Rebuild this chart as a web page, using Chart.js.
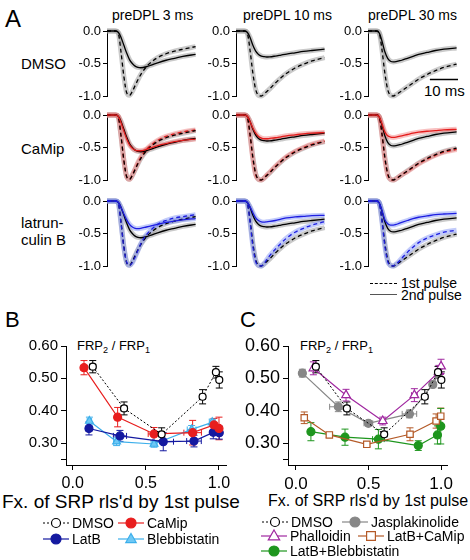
<!DOCTYPE html>
<html>
<head>
<meta charset="utf-8">
<script src="https://cdn.jsdelivr.net/npm/chart.js@4.4.1/dist/chart.umd.min.js"></script>
<style>
body { margin: 0; background: #fff; }
#fig { position: relative; width: 470px; height: 560px; overflow: hidden; font-family: "Liberation Sans", Arial, sans-serif; color: #000; }
#fig canvas { position: absolute; }
.t { position: absolute; white-space: nowrap; line-height: 1; }
.t sub { font-size: 70%; vertical-align: -3px; line-height: 0; }
.smp { position: absolute; width: 27px; height: 0; }
</style>
</head>
<body>
<div id="fig">
  <div class="t" style="left:5px;top:7px;font-size:24px">A</div>
  <div class="t" style="left:112px;top:8px;font-size:14px">preDPL 3 ms</div>
  <div class="t" style="left:243px;top:8px;font-size:14px">preDPL 10 ms</div>
  <div class="t" style="left:368px;top:8px;font-size:14px">preDPL 30 ms</div>
  <div class="t" style="left:21px;top:56px;font-size:15px">DMSO</div>
  <div class="t" style="left:21px;top:141px;font-size:15px">CaMip</div>
  <div class="t" style="left:21px;top:215px;font-size:15px">latrun-</div>
  <div class="t" style="left:21px;top:232px;font-size:15px">culin B</div>
  <div class="t" style="left:424px;top:83px;font-size:15px">10 ms</div>
  <div class="smp" style="left:370px;top:283px;border-top:1.3px dashed #000"></div>
  <div class="t" style="left:401px;top:276px;font-size:14px">1st pulse</div>
  <div class="smp" style="left:370px;top:294px;border-top:1.5px solid #555"></div>
  <div class="t" style="left:401px;top:288px;font-size:14px">2nd pulse</div>

  <div class="t" style="left:5px;top:309px;font-size:22px">B</div>
  <div class="t" style="left:240px;top:309px;font-size:22px">C</div>
  <div class="t" style="left:77px;top:339px;font-size:13px">FRP<sub>2</sub> / FRP<sub>1</sub></div>
  <div class="t" style="left:300px;top:339px;font-size:13px">FRP<sub>2</sub> / FRP<sub>1</sub></div>
  <div class="t" style="left:2px;top:492px;font-size:19px">Fx. of SRP rls'd by 1st pulse</div>
  <div class="t" style="left:268px;top:493px;font-size:16px">Fx. of SRP rls'd by 1st pulse</div>
</div>
<script>
// ---- panel A: normalized currents, time in ms ----
const T = [0, 3, 4, 5, 6, 7, 8, 9, 10, 11, 12, 14, 16, 18, 21, 24, 27, 31.5];

// one inner array per column: preDPL 3, 10, 30 ms
const dmsoFirst = [
  [0, 0, -0.03, -0.33, -0.7, -0.95, -0.99, -0.93, -0.84, -0.75, -0.67, -0.55, -0.47, -0.41, -0.35, -0.31, -0.28, -0.24],
  [0, 0, -0.03, -0.3, -0.65, -0.9, -0.99, -1.0, -0.97, -0.93, -0.89, -0.8, -0.72, -0.65, -0.57, -0.51, -0.46, -0.41],
  [0, 0, -0.03, -0.3, -0.65, -0.9, -0.99, -1.0, -0.98, -0.95, -0.92, -0.86, -0.8, -0.74, -0.67, -0.61, -0.56, -0.51]
];
const dmsoSecond = [
  [0, 0, -0.02, -0.1, -0.22, -0.34, -0.44, -0.5, -0.54, -0.56, -0.565, -0.55, -0.52, -0.49, -0.45, -0.42, -0.39, -0.36],
  [0, 0, -0.02, -0.1, -0.22, -0.31, -0.36, -0.385, -0.395, -0.4, -0.398, -0.385, -0.37, -0.355, -0.335, -0.315, -0.3, -0.28],
  [0, 0, -0.03, -0.16, -0.32, -0.42, -0.465, -0.475, -0.47, -0.46, -0.45, -0.42, -0.39, -0.36, -0.33, -0.3, -0.28, -0.26]
];
const camipFirst = [
  [0, 0, -0.03, -0.32, -0.7, -0.95, -0.99, -0.92, -0.83, -0.73, -0.65, -0.53, -0.45, -0.39, -0.33, -0.29, -0.26, -0.23],
  [0, 0, -0.03, -0.32, -0.68, -0.92, -0.99, -1.0, -0.97, -0.92, -0.88, -0.79, -0.71, -0.64, -0.56, -0.5, -0.45, -0.4],
  [0, 0, -0.03, -0.32, -0.68, -0.92, -0.99, -1.0, -0.98, -0.95, -0.92, -0.87, -0.81, -0.75, -0.68, -0.62, -0.57, -0.53]
];
const camipSecond = [
  [0, 0, -0.02, -0.12, -0.25, -0.37, -0.46, -0.51, -0.54, -0.55, -0.55, -0.53, -0.5, -0.47, -0.44, -0.41, -0.39, -0.37],
  [0, 0, -0.02, -0.1, -0.2, -0.28, -0.33, -0.355, -0.365, -0.365, -0.36, -0.35, -0.335, -0.32, -0.305, -0.29, -0.28, -0.27],
  [0, 0, -0.03, -0.14, -0.26, -0.32, -0.34, -0.345, -0.34, -0.33, -0.32, -0.3, -0.28, -0.265, -0.25, -0.24, -0.23, -0.22]
];
const latbFirst = [
  [0, 0, -0.03, -0.35, -0.72, -0.94, -0.99, -0.95, -0.86, -0.76, -0.66, -0.52, -0.43, -0.36, -0.3, -0.26, -0.24, -0.21],
  [0, 0, -0.03, -0.33, -0.7, -0.93, -0.99, -1.0, -0.96, -0.9, -0.84, -0.74, -0.65, -0.57, -0.48, -0.42, -0.37, -0.32],
  [0, 0, -0.03, -0.33, -0.7, -0.93, -0.99, -1.0, -0.97, -0.93, -0.88, -0.79, -0.71, -0.64, -0.57, -0.52, -0.48, -0.45]
];
const latbSecond = [
  [0, 0, -0.02, -0.1, -0.2, -0.29, -0.36, -0.4, -0.42, -0.425, -0.42, -0.4, -0.38, -0.36, -0.33, -0.31, -0.29, -0.27],
  [0, 0, -0.02, -0.09, -0.18, -0.26, -0.3, -0.32, -0.325, -0.32, -0.315, -0.3, -0.28, -0.26, -0.245, -0.235, -0.225, -0.22],
  [0, 0, -0.03, -0.15, -0.29, -0.35, -0.37, -0.37, -0.36, -0.345, -0.33, -0.3, -0.27, -0.25, -0.23, -0.21, -0.2, -0.19]
];
const aTicks = [0, -0.5, -1.0];

// ---- panel B: FRP2/FRP1 vs fraction of SRP released ----
const bDmsoX = [0.137, 0.351, 0.608, 0.888, 0.979, 1.002];
const bDmsoY = [0.536, 0.407, 0.327, 0.443, 0.519, 0.495];
const bDmsoYErr = [0.019, 0.02, 0.02, 0.022, 0.018, 0.025];
const bDmsoXErr = [0.02, 0.02, 0.02, 0.02, 0.01, 0.01];

const camipX = [0.077, 0.307, 0.556, 0.82, 0.966, 1.0];
const camipY = [0.533, 0.38, 0.328, 0.332, 0.356, 0.345];
const camipYErr = [0.022, 0.03, 0.02, 0.038, 0.02, 0.035];
const camipXErr = [0.02, 0.02, 0.04, 0.06, 0.02, 0.01];

const latbX = [0.111, 0.323, 0.619, 0.829, 0.961, 1.002];
const latbY = [0.345, 0.322, 0.304, 0.306, 0.333, 0.332];
const latbYErr = [0.02, 0.017, 0.028, 0.018, 0.02, 0.02];
const latbXErr = [0.02, 0.045, 0.07, 0.05, 0.015, 0.01];

const blebX = [0.114, 0.3, 0.556, 0.813, 0.954];
const blebY = [0.368, 0.304, 0.297, 0.342, 0.364];
const blebYErr = [0.012, 0.012, 0.01, 0.012, 0.01];
const blebXErr = [0.015, 0.02, 0.02, 0.03, 0.02];

// ---- panel C ----
const jaspX = [0.044, 0.292, 0.499, 0.782, 0.943, 0.981];
const jaspY = [0.516, 0.412, 0.361, 0.39, 0.481, 0.512];
const jaspYErr = [0.012, 0.015, 0.008, 0.012, 0.01, 0.01];
const jaspXErr = [0.02, 0.06, 0.03, 0.05, 0.02, 0.01];

const phallX = [0.12, 0.345, 0.598, 0.816, 0.985, 1.0];
const phallY = [0.531, 0.448, 0.368, 0.448, 0.52, 0.537];
const phallYErr = [0.02, 0.018, 0.012, 0.02, 0.02, 0.022];
const phallXErr = [0.01, 0.01, 0.02, 0.02, 0.01, 0.01];

const latbCamipX = [0.057, 0.23, 0.488, 0.786, 0.966, 0.998];
const latbCamipY = [0.378, 0.325, 0.296, 0.327, 0.368, 0.383];
const latbCamipYErr = [0.018, 0.008, 0.007, 0.02, 0.022, 0.025];
const latbCamipXErr = [0.01, 0.02, 0.02, 0.02, 0.02, 0.01];

const latbBlebX = [0.103, 0.338, 0.568, 0.843, 0.975, 0.998];
const latbBlebY = [0.335, 0.318, 0.312, 0.292, 0.325, 0.352];
const latbBlebYErr = [0.028, 0.025, 0.03, 0.015, 0.028, 0.055];
const latbBlebXErr = [0.01, 0.01, 0.04, 0.01, 0.01, 0.01];

const frpYTicks = [0.25, 0.3, 0.4, 0.5, 0.6];
const frpXTicks = [0, 0.5, 1.0];

Chart.defaults.font.family = '"Liberation Sans", Arial, sans-serif';
Chart.defaults.color = '#000';

function makeCanvas(left, top, w, h) {
  const c = document.createElement('canvas');
  c.width = w; c.height = h;
  c.style.left = left + 'px'; c.style.top = top + 'px';
  c.style.width = w + 'px'; c.style.height = h + 'px';
  document.getElementById('fig').appendChild(c);
  return c;
}

// small marker drawer shared by the key
function marker(ctx, style, x, y, r) {
  ctx.beginPath();
  if (style === 'triangle') {
    ctx.moveTo(x, y - r);
    ctx.lineTo(x + r * 0.95, y + r * 0.65);
    ctx.lineTo(x - r * 0.95, y + r * 0.65);
    ctx.closePath();
  } else if (style === 'rect') {
    ctx.rect(x - r * 0.8, y - r * 0.8, r * 1.6, r * 1.6);
  } else {
    ctx.arc(x, y, r, 0, Math.PI * 2);
  }
  ctx.fill();
  ctx.stroke();
}

const errorBars = {
  id: 'errorBars',
  beforeDatasetsDraw(chart) {
    const ctx = chart.ctx, xs = chart.scales.x, ys = chart.scales.y;
    chart.data.datasets.forEach(ds => {
      if (!ds.yErr) return;
      ctx.save();
      ctx.strokeStyle = ds.borderColor;
      ctx.lineWidth = 1;
      ds.data.forEach((p, j) => {
        const px = xs.getPixelForValue(p.x), py = ys.getPixelForValue(p.y);
        const top = ys.getPixelForValue(p.y + ds.yErr[j]), bot = ys.getPixelForValue(p.y - ds.yErr[j]);
        const lft = xs.getPixelForValue(p.x - ds.xErr[j]), rgt = xs.getPixelForValue(p.x + ds.xErr[j]);
        ctx.beginPath();
        ctx.moveTo(px, top); ctx.lineTo(px, bot);
        ctx.moveTo(px - 3.5, top); ctx.lineTo(px + 3.5, top);
        ctx.moveTo(px - 3.5, bot); ctx.lineTo(px + 3.5, bot);
        ctx.moveTo(lft, py); ctx.lineTo(rgt, py);
        ctx.moveTo(lft, py - 3); ctx.lineTo(lft, py + 3);
        ctx.moveTo(rgt, py - 3); ctx.lineTo(rgt, py + 3);
        ctx.stroke();
      });
      ctx.restore();
    });
  }
};

const keyPlugin = {
  id: 'key',
  afterDraw(chart, args, opts) {
    if (!opts.items) return;
    const ctx = chart.ctx;
    opts.items.forEach(it => {
      const ds = chart.data.datasets[it.ds];
      ctx.save();
      ctx.strokeStyle = ds.borderColor;
      ctx.lineWidth = ds.borderWidth;
      ctx.setLineDash(ds.borderDash || []);
      ctx.beginPath(); ctx.moveTo(it.x, it.y); ctx.lineTo(it.x + 26, it.y); ctx.stroke();
      ctx.setLineDash([]);
      ctx.fillStyle = ds.pointBackgroundColor;
      ctx.strokeStyle = ds.pointBorderColor;
      ctx.lineWidth = ds.pointBorderWidth;
      marker(ctx, ds.pointStyle, it.x + 13, it.y, ds.pointRadius + 1);
      ctx.fillStyle = '#000';
      ctx.font = '14px "Liberation Sans", Arial, sans-serif';
      ctx.textBaseline = 'middle';
      ctx.fillText(ds.label, it.x + 29, it.y + 1);
      ctx.restore();
    });
  }
};

const scaleBar = {
  id: 'scaleBar',
  afterDraw(chart, args, opts) {
    if (!opts.show) return;
    const ctx = chart.ctx, xs = chart.scales.x, ys = chart.scales.y;
    const y = Math.round(ys.getPixelForValue(opts.at)) + 0.5;
    ctx.save();
    ctx.strokeStyle = '#000';
    ctx.lineWidth = 1.5;
    ctx.beginPath();
    ctx.moveTo(xs.getPixelForValue(opts.from), y);
    ctx.lineTo(xs.getPixelForValue(opts.to), y);
    ctx.stroke();
    ctx.restore();
  }
};

// ---- panel A grid ----
const colAxis = [107, 236, 368];
const rowZero = [31, 115, 201];
const rowSets = [
  null,
  { first: camipFirst, second: camipSecond, line: 'rgb(228,28,28)', band: 'rgba(240,120,120,0.45)' },
  { first: latbFirst, second: latbSecond, line: 'rgb(30,30,225)', band: 'rgba(120,140,245,0.45)' }
];

function trace(vals, color, width, dash, order) {
  return {
    data: vals.map((v, i) => ({ x: T[i], y: v })),
    borderColor: color, borderWidth: width, borderDash: dash,
    pointRadius: 0, cubicInterpolationMode: 'monotone', order: order, clip: false
  };
}

for (let r = 0; r < 3; r++) {
  for (let c = 0; c < 3; c++) {
    const canvas = makeCanvas(colAxis[c] - 36, rowZero[r] - 10, 140, 85);
    const grey = 'rgba(150,150,150,0.5)';
    const datasets = [
      trace(dmsoFirst[c], grey, 5, [], 20),
      trace(dmsoSecond[c], grey, 5, [], 20),
      trace(dmsoFirst[c], '#000', 1.3, [4, 3], 1),
      trace(dmsoSecond[c], '#000', 1.3, [], 1)
    ];
    const s = rowSets[r];
    if (s) {
      datasets.push(trace(s.first[c], s.band, 5, [], 15));
      datasets.push(trace(s.second[c], s.band, 5, [], 15));
      datasets.push(trace(s.first[c], s.line, 1.3, [4, 3], r === 1 ? 3 : 0));
      datasets.push(trace(s.second[c], s.line, 1.3, [], 0));
    }
    new Chart(canvas, {
      type: 'line',
      data: { datasets: datasets },
      options: {
        responsive: false, animation: false,
        layout: { padding: { top: 10, bottom: 10, left: 0, right: 14 } },
        scales: {
          x: { type: 'linear', display: false, min: 0, max: 32 },
          y: {
            min: -1, max: 0,
            afterBuildTicks: s => { s.ticks = aTicks.map(v => ({ value: v })); },
            afterFit: s => { s.width = 36; },
            grid: { drawOnChartArea: false, tickLength: 4, color: '#000' },
            border: { color: '#000' },
            ticks: { font: { size: 13 }, padding: 2, callback: v => v.toFixed(1) }
          }
        },
        plugins: {
          legend: { display: false }, tooltip: { enabled: false },
          scaleBar: { show: r === 0 && c === 2, from: 22, to: 32, at: -0.74 }
        }
      },
      plugins: [scaleBar]
    });
  }
}

// ---- panels B and C ----
function series(label, xs, ys, xErr, yErr, o) {
  return {
    label: label,
    data: xs.map((x, i) => ({ x: x, y: ys[i] })),
    xErr: xErr, yErr: yErr,
    showLine: true,
    borderColor: o.color, borderWidth: o.width || 1.2, borderDash: o.dash || [],
    pointStyle: o.style || 'circle', pointRadius: o.r || 4,
    pointBackgroundColor: o.fill, pointBorderColor: o.color, pointBorderWidth: 1.2,
    order: o.order, clip: false
  };
}

function frpChart(canvas, datasets, cfg) {
  return new Chart(canvas, {
    type: 'line',
    data: { datasets: datasets },
    options: {
      responsive: false, animation: false,
      layout: { padding: { top: 16, right: cfg.padRight, left: 0, bottom: 0 } },
      scales: {
        x: {
          type: 'linear', min: cfg.xMin, max: cfg.xMax,
          afterBuildTicks: s => { s.ticks = frpXTicks.map(v => ({ value: v })); },
          afterFit: s => { s.height = 95; },
          grid: { drawOnChartArea: false, tickLength: 5, color: '#000' },
          border: { color: '#000' },
          ticks: { font: { size: cfg.xTick }, padding: 4, maxRotation: 0, autoSkip: false, callback: v => v.toFixed(1) }
        },
        y: {
          min: 0.232, max: 0.6,
          afterBuildTicks: s => { s.ticks = frpYTicks.map(v => ({ value: v })); },
          afterFit: s => { s.width = cfg.yWidth; },
          grid: { drawOnChartArea: false, tickLength: 5, color: '#000' },
          border: { color: '#000' },
          ticks: { font: { size: cfg.yTick }, padding: 3, autoSkip: false,
                   callback: v => (Math.round(v * 100) % 10 === 0 ? v.toFixed(2) : '') }
        }
      },
      plugins: {
        legend: { display: false }, tooltip: { enabled: false },
        key: { items: cfg.key }
      }
    },
    plugins: [errorBars, keyPlugin]
  });
}

const dmsoStyle = { color: '#000', fill: '#fff', width: 1, dash: [2, 2], r: 3.5, order: 1 };

frpChart(makeCanvas(0, 330, 235, 230), [
  series('DMSO', bDmsoX, bDmsoY, bDmsoXErr, bDmsoYErr, dmsoStyle),
  series('CaMip', camipX, camipY, camipXErr, camipYErr, { color: 'rgb(232,30,30)', fill: 'rgb(232,30,30)', order: 2 }),
  series('LatB', latbX, latbY, latbXErr, latbYErr, { color: 'rgb(20,25,160)', fill: 'rgb(20,25,160)', order: 3 }),
  series('Blebbistatin', blebX, blebY, blebXErr, blebYErr, { color: 'rgb(60,175,235)', fill: 'rgb(110,200,245)', style: 'triangle', r: 4.5, order: 4 })
], {
  xMin: -0.046, xMax: 1.048, padRight: 9, yWidth: 66, xTick: 16, yTick: 15,
  key: [{ ds: 0, x: 43, y: 193 }, { ds: 1, x: 118, y: 193 }, { ds: 2, x: 43, y: 209 }, { ds: 3, x: 118, y: 209 }]
});

frpChart(makeCanvas(235, 330, 235, 230), [
  series('DMSO', bDmsoX, bDmsoY, bDmsoXErr, bDmsoYErr, dmsoStyle),
  series('Jasplakinolide', jaspX, jaspY, jaspXErr, jaspYErr, { color: 'rgb(135,135,135)', fill: 'rgb(135,135,135)', order: 3 }),
  series('Phalloidin', phallX, phallY, phallXErr, phallYErr, { color: 'rgb(160,40,160)', fill: '#fff', style: 'triangle', r: 5, order: 2 }),
  series('LatB+CaMip', latbCamipX, latbCamipY, latbCamipXErr, latbCamipYErr, { color: 'rgb(180,90,40)', fill: '#fff', style: 'rect', r: 4.5, order: 4 }),
  series('LatB+Blebbistatin', latbBlebX, latbBlebY, latbBlebXErr, latbBlebYErr, { color: 'rgb(30,150,30)', fill: 'rgb(30,150,30)', order: 5 })
], {
  xMin: -0.055, xMax: 1.041, padRight: 23, yWidth: 53, xTick: 17, yTick: 18,
  key: [{ ds: 0, x: 27, y: 192 }, { ds: 1, x: 107, y: 192 }, { ds: 2, x: 26, y: 206 }, { ds: 3, x: 123, y: 206 }, { ds: 4, x: 26, y: 221 }]
});
</script>
</body>
</html>
